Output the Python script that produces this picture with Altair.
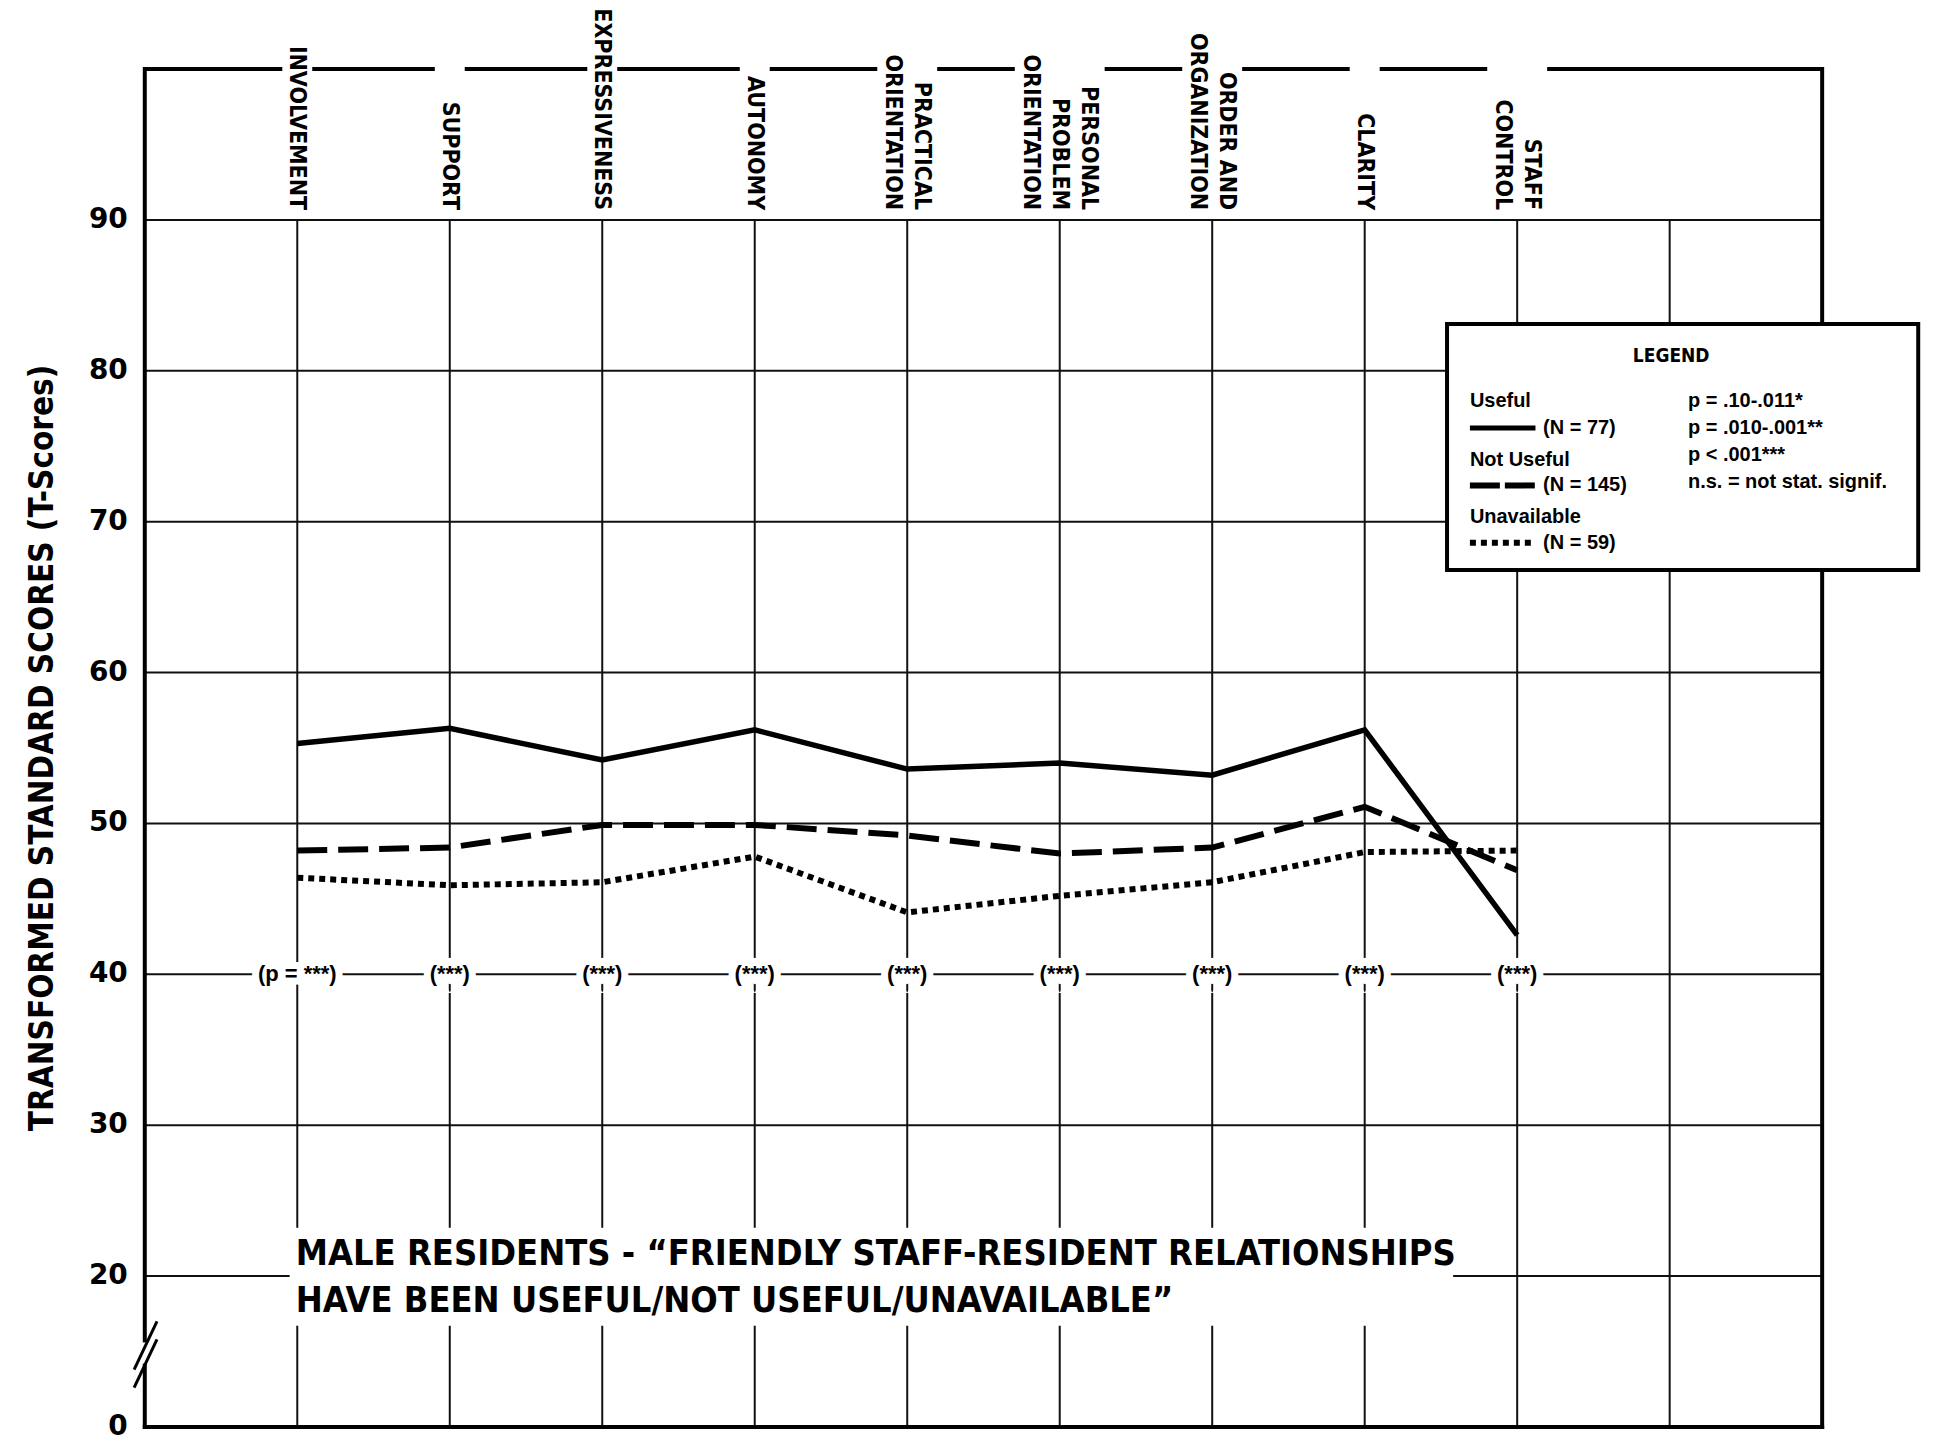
import altair as alt
import pandas as pd

# ---------------- data ----------------
categories = ["INVOLVEMENT", "SUPPORT", "EXPRESSIVENESS", "AUTONOMY",
              "PRACTICAL ORIENTATION", "PERSONAL PROBLEM ORIENTATION",
              "ORDER AND ORGANIZATION", "CLARITY", "STAFF CONTROL"]
category_lines = [["INVOLVEMENT"], ["SUPPORT"], ["EXPRESSIVENESS"], ["AUTONOMY"],
                  ["PRACTICAL", "ORIENTATION"], ["PERSONAL", "PROBLEM", "ORIENTATION"],
                  ["ORDER AND", "ORGANIZATION"], ["CLARITY"], ["STAFF", "CONTROL"]]
useful = [55.3, 56.3, 54.2, 56.2, 53.6, 54.0, 53.2, 56.2, 42.6]
not_useful = [48.2, 48.4, 49.9, 49.9, 49.2, 48.0, 48.4, 51.1, 46.9]
unavailable = [46.4, 45.9, 46.1, 47.8, 44.1, 45.2, 46.1, 48.1, 48.2]
significance = ["(p = ***)", "(***)", "(***)", "(***)", "(***)",
                "(***)", "(***)", "(***)", "(***)"]
y_tick_values = [10, 20, 30, 40, 50, 60, 70, 80, 90]
y_tick_labels = ["0", "20", "30", "40", "50", "60", "70", "80", "90"]
series_names = ["Useful", "Not Useful", "Unavailable"]
series_n = ["(N = 77)", "(N = 145)", "(N = 59)"]
p_legend = ["p = .10-.011*", "p = .010-.001**", "p < .001***", "n.s. = not stat. signif."]
title_lines = ["MALE RESIDENTS - \u201cFRIENDLY STAFF-RESIDENT RELATIONSHIPS",
               "HAVE BEEN USEFUL/NOT USEFUL/UNAVAILABLE\u201d"]
y_title = "TRANSFORMED STANDARD SCORES (T-Scores)"

# ---------------- layout ----------------
W, H = 1680, 1360
PX = W / 11.0            # pixels per x unit
COND = "DejaVu Sans Condensed, DejaVu Sans, sans-serif"
SANS = "Liberation Sans, Arial, sans-serif"
WIDE = "DejaVu Sans, sans-serif"
LH = 29                  # line height of category labels
xs = alt.Scale(domain=[0, 11], nice=False, zero=False)
ys = alt.Scale(domain=[10, 100], nice=False, zero=False)

def X(f):
    return alt.X(f, type="quantitative", scale=xs, axis=None)

def Y(f):
    return alt.Y(f, type="quantitative", scale=ys, axis=None)

n_cat = len(categories)
pos = list(range(1, n_cat + 1))
n_lines = [len(l) for l in category_lines]

# grid lines
hgrid = pd.DataFrame({"y": y_tick_values[1:], "x": 0, "x2": 11})
vgrid = pd.DataFrame({"x": list(range(1, 11)), "y": 10, "y2": 90})
frame = pd.DataFrame({"x": [0, 11, 0], "x2": [0, 11, 11],
                      "y": [10, 10, 10], "y2": [100, 100, 10]})

# top border, interrupted where the category label blocks pass through it
half = [n * 15 / PX for n in n_lines]
seg_x = [0] + [p + h for p, h in zip(pos, half)]
seg_x2 = [p - h for p, h in zip(pos, half)] + [11]
top_border = pd.DataFrame({"x": seg_x, "x2": seg_x2, "y": 100})

grid_h = alt.Chart(hgrid).mark_rule(color="#111", strokeWidth=2).encode(
    x=X("x"), x2="x2", y=Y("y"))
grid_v = alt.Chart(vgrid).mark_rule(color="#111", strokeWidth=2).encode(
    x=X("x"), y=Y("y"), y2="y2")
frame_l = alt.Chart(frame).mark_rule(color="black", strokeWidth=4, strokeCap="square").encode(
    x=X("x"), x2="x2", y=Y("y"), y2="y2")
top_l = alt.Chart(top_border).mark_rule(color="black", strokeWidth=4).encode(
    x=X("x"), x2="x2", y=Y("y"))

# y tick labels and y title (drawn as text)
ytick_df = pd.DataFrame({"x": 0, "y": y_tick_values, "label": y_tick_labels})
ytick_text = alt.Chart(ytick_df).mark_text(
    align="right", baseline="middle", dx=-17, font=WIDE, fontSize=28,
    fontWeight="bold", color="black").encode(x=X("x"), y=Y("y"), text="label")
ytitle_df = pd.DataFrame({"x": [-102 / PX], "y": [55.0], "label": [y_title]})
ytitle_text = alt.Chart(ytitle_df).mark_text(
    angle=270, align="center", baseline="middle", font=COND, fontSize=33,
    fontWeight="bold", color="black").encode(x=X("x"), y=Y("y"), text="label")

# category labels (multi-line blocks centred on their column)
cat_df = pd.DataFrame({
    "x": [p + (n - 1) * LH / 2 / PX for p, n in zip(pos, n_lines)],
    "y": 90.65, "label": category_lines})
cat_text = alt.Chart(cat_df).mark_text(
    angle=90, align="right", baseline="middle", font=COND, fontSize=23,
    fontWeight="bold", lineHeight=LH, color="black").encode(
    x=X("x"), y=Y("y"), text="label")

# significance labels along the 40 line
sig_df = pd.DataFrame({"x": pos, "y": 40, "label": significance})
sig_halo = alt.Chart(sig_df).mark_text(
    font=SANS, fontSize=22, fontWeight="bold", baseline="middle",
    stroke="white", strokeWidth=14, fill="white").encode(
    x=X("x"), y=Y("y"), text="label")
sig_text = alt.Chart(sig_df).mark_text(
    font=SANS, fontSize=22, fontWeight="bold", baseline="middle",
    color="black").encode(x=X("x"), y=Y("y"), text="label")

# data lines
def series_layer(vals, dash, width):
    df = pd.DataFrame({"x": pos, "v": vals, "category": categories})
    kw = dict(color="black", strokeWidth=width, strokeJoin="miter")
    if dash:
        kw["strokeDash"] = dash
    return alt.Chart(df).mark_line(**kw).encode(x=X("x"), y=Y("v"), order="x:Q")

line_u = series_layer(useful, None, 5.5)
line_n = series_layer(not_useful, [30, 11], 6)
line_a = series_layer(unavailable, [6, 5], 6)

# bottom title with white box
tbox = pd.DataFrame({"x": [0.95], "x2": [8.58], "y": [16.7], "y2": [23.2]})
title_box = alt.Chart(tbox).mark_rect(fill="white").encode(
    x=X("x"), x2="x2", y=Y("y"), y2="y2")
tdf = pd.DataFrame({"x": [0.99], "y": [21.45], "label": [title_lines]})
title_text = alt.Chart(tdf).mark_text(
    align="left", baseline="middle", font=COND, fontSize=36,
    fontWeight="bold", lineHeight=47, color="black").encode(
    x=X("x"), y=Y("y"), text="label")

# legend box
lbox = pd.DataFrame({"x": [8.54], "x2": [11.63], "y": [66.8], "y2": [83.1]})
legend_box = alt.Chart(lbox).mark_rect(fill="white", stroke="black", strokeWidth=4).encode(
    x=X("x"), x2="x2", y=Y("y"), y2="y2")
leg_head = alt.Chart(pd.DataFrame({"label": ["LEGEND"], "x": [10.01], "y": [81.0]})).mark_text(
    baseline="middle", align="center", font=COND, fontWeight="bold", fontSize=19,
    color="black").encode(x=X("x"), y=Y("y"), text="label")
leg_txt = pd.DataFrame({
    "label": series_names + series_n + p_legend,
    "x": [8.69] * 3 + [9.17] * 3 + [10.12] * 4,
    "y": [78.0, 74.1, 70.3, 76.2, 72.4, 68.6, 78.0, 76.2, 74.4, 72.6],
})
legend_text = alt.Chart(leg_txt).mark_text(
    baseline="middle", align="left", font=SANS, fontWeight="bold", fontSize=20,
    color="black").encode(x=X("x"), y=Y("y"), text="label")
leg_lines = pd.DataFrame({"x": [8.69] * 3, "x2": [9.12] * 3,
                          "y": [76.2, 72.4, 68.6], "s": series_names})
leg_solid = alt.Chart(leg_lines.iloc[[0]]).mark_rule(color="black", strokeWidth=5).encode(
    x=X("x"), x2="x2", y=Y("y"))
leg_dash = alt.Chart(leg_lines.iloc[[1]]).mark_rule(color="black", strokeWidth=6, strokeDash=[30, 5]).encode(
    x=X("x"), x2="x2", y=Y("y"))
leg_dot = alt.Chart(leg_lines.iloc[[2]]).mark_rule(color="black", strokeWidth=6, strokeDash=[6, 5]).encode(
    x=X("x"), x2="x2", y=Y("y"))

# axis break mark
brk_gap = pd.DataFrame({"x": [0], "y": [14.2], "y2": [15.6]})
break_gap = alt.Chart(brk_gap).mark_rule(color="white", strokeWidth=8).encode(
    x=X("x"), y=Y("y"), y2="y2")
brk = pd.DataFrame({"x": [-0.07, -0.07], "x2": [0.08, 0.08],
                    "y": [12.6, 13.8], "y2": [15.8, 17.0]})
break_marks = alt.Chart(brk).mark_rule(color="black", strokeWidth=3).encode(
    x=X("x"), x2="x2", y=Y("y"), y2="y2")

chart = alt.layer(
    grid_h, grid_v, frame_l, top_l, break_gap, break_marks,
    ytick_text, ytitle_text,
    cat_text, sig_halo, sig_text,
    line_a, line_n, line_u,
    title_box, title_text,
    legend_box, leg_solid, leg_dash, leg_dot, leg_head, legend_text,
).properties(
    width=W, height=H,
    autosize=alt.AutoSizeParams(type="none"),
    padding={"left": 137, "top": 60, "right": 103, "bottom": 16},
    background="white",
).configure_view(stroke=None)

chart.save("out.html", embed_options={"renderer": "svg", "actions": False})
